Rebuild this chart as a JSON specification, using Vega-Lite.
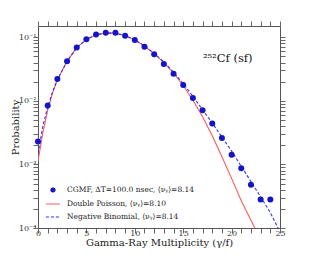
{
  "$schema": "https://vega.github.io/schema/vega-lite/v6.json",
  "width": 242,
  "height": 202,
  "autosize": "none",
  "padding": {"left": 38, "top": 26, "right": 32, "bottom": 32},
  "background": "white",
  "config": {
    "view": {"stroke": "#555", "strokeWidth": 1},
    "font": "DejaVu Serif",
    "axis": {"grid": false, "domain": false, "labelFont": "DejaVu Serif", "titleFont": "DejaVu Serif", "labelColor": "#333", "titleColor": "#222", "tickColor": "#666", "labelFontSize": 8, "titleFontSize": 10, "titleFontWeight": "normal"}
  },
  "datasets": {
    "curves": [
      {"series": "Double Poisson, ⟨νᵧ⟩=8.10", "x": 0, "p": 0.00112},
      {"series": "Double Poisson, ⟨νᵧ⟩=8.10", "x": 0.5, "p": 0.00316},
      {"series": "Double Poisson, ⟨νᵧ⟩=8.10", "x": 1, "p": 0.00708},
      {"series": "Double Poisson, ⟨νᵧ⟩=8.10", "x": 1.5, "p": 0.0132},
      {"series": "Double Poisson, ⟨νᵧ⟩=8.10", "x": 2, "p": 0.0214},
      {"series": "Double Poisson, ⟨νᵧ⟩=8.10", "x": 3, "p": 0.0417},
      {"series": "Double Poisson, ⟨νᵧ⟩=8.10", "x": 4, "p": 0.0684},
      {"series": "Double Poisson, ⟨νᵧ⟩=8.10", "x": 5, "p": 0.0923},
      {"series": "Double Poisson, ⟨νᵧ⟩=8.10", "x": 6, "p": 0.1096},
      {"series": "Double Poisson, ⟨νᵧ⟩=8.10", "x": 7, "p": 0.117},
      {"series": "Double Poisson, ⟨νᵧ⟩=8.10", "x": 8, "p": 0.116},
      {"series": "Double Poisson, ⟨νᵧ⟩=8.10", "x": 9, "p": 0.106},
      {"series": "Double Poisson, ⟨νᵧ⟩=8.10", "x": 10, "p": 0.0902},
      {"series": "Double Poisson, ⟨νᵧ⟩=8.10", "x": 11, "p": 0.0724},
      {"series": "Double Poisson, ⟨νᵧ⟩=8.10", "x": 12, "p": 0.055},
      {"series": "Double Poisson, ⟨νᵧ⟩=8.10", "x": 13, "p": 0.0398},
      {"series": "Double Poisson, ⟨νᵧ⟩=8.10", "x": 14, "p": 0.0272},
      {"series": "Double Poisson, ⟨νᵧ⟩=8.10", "x": 15, "p": 0.0174},
      {"series": "Double Poisson, ⟨νᵧ⟩=8.10", "x": 16, "p": 0.0102},
      {"series": "Double Poisson, ⟨νᵧ⟩=8.10", "x": 17, "p": 0.00562},
      {"series": "Double Poisson, ⟨νᵧ⟩=8.10", "x": 18, "p": 0.00282},
      {"series": "Double Poisson, ⟨νᵧ⟩=8.10", "x": 19, "p": 0.00132},
      {"series": "Double Poisson, ⟨νᵧ⟩=8.10", "x": 20, "p": 0.000603},
      {"series": "Double Poisson, ⟨νᵧ⟩=8.10", "x": 21, "p": 0.000269},
      {"series": "Double Poisson, ⟨νᵧ⟩=8.10", "x": 22, "p": 0.000132},
      {"series": "Double Poisson, ⟨νᵧ⟩=8.10", "x": 22.4, "p": 0.0001},
      {"series": "Double Poisson, ⟨νᵧ⟩=8.10", "x": 23, "p": 0.000063},
      {"series": "Negative Binomial, ⟨νᵧ⟩=8.14", "x": 0, "p": 0.00148},
      {"series": "Negative Binomial, ⟨νᵧ⟩=8.14", "x": 0.5, "p": 0.00398},
      {"series": "Negative Binomial, ⟨νᵧ⟩=8.14", "x": 1, "p": 0.00794},
      {"series": "Negative Binomial, ⟨νᵧ⟩=8.14", "x": 1.5, "p": 0.0138},
      {"series": "Negative Binomial, ⟨νᵧ⟩=8.14", "x": 2, "p": 0.0214},
      {"series": "Negative Binomial, ⟨νᵧ⟩=8.14", "x": 3, "p": 0.0417},
      {"series": "Negative Binomial, ⟨νᵧ⟩=8.14", "x": 4, "p": 0.0684},
      {"series": "Negative Binomial, ⟨νᵧ⟩=8.14", "x": 5, "p": 0.0923},
      {"series": "Negative Binomial, ⟨νᵧ⟩=8.14", "x": 6, "p": 0.109},
      {"series": "Negative Binomial, ⟨νᵧ⟩=8.14", "x": 7, "p": 0.116},
      {"series": "Negative Binomial, ⟨νᵧ⟩=8.14", "x": 8, "p": 0.1156},
      {"series": "Negative Binomial, ⟨νᵧ⟩=8.14", "x": 9, "p": 0.106},
      {"series": "Negative Binomial, ⟨νᵧ⟩=8.14", "x": 10, "p": 0.0906},
      {"series": "Negative Binomial, ⟨νᵧ⟩=8.14", "x": 11, "p": 0.0729},
      {"series": "Negative Binomial, ⟨νᵧ⟩=8.14", "x": 12, "p": 0.0556},
      {"series": "Negative Binomial, ⟨νᵧ⟩=8.14", "x": 13, "p": 0.0407},
      {"series": "Negative Binomial, ⟨νᵧ⟩=8.14", "x": 14, "p": 0.0282},
      {"series": "Negative Binomial, ⟨νᵧ⟩=8.14", "x": 15, "p": 0.0186},
      {"series": "Negative Binomial, ⟨νᵧ⟩=8.14", "x": 16, "p": 0.01175},
      {"series": "Negative Binomial, ⟨νᵧ⟩=8.14", "x": 17, "p": 0.00724},
      {"series": "Negative Binomial, ⟨νᵧ⟩=8.14", "x": 18, "p": 0.00447},
      {"series": "Negative Binomial, ⟨νᵧ⟩=8.14", "x": 19, "p": 0.00269},
      {"series": "Negative Binomial, ⟨νᵧ⟩=8.14", "x": 20, "p": 0.00162},
      {"series": "Negative Binomial, ⟨νᵧ⟩=8.14", "x": 21, "p": 0.000933},
      {"series": "Negative Binomial, ⟨νᵧ⟩=8.14", "x": 22, "p": 0.000537},
      {"series": "Negative Binomial, ⟨νᵧ⟩=8.14", "x": 23, "p": 0.000309},
      {"series": "Negative Binomial, ⟨νᵧ⟩=8.14", "x": 24, "p": 0.000174},
      {"series": "Negative Binomial, ⟨νᵧ⟩=8.14", "x": 24.8, "p": 0.0001},
      {"series": "Negative Binomial, ⟨νᵧ⟩=8.14", "x": 25.5, "p": 0.000063}
    ],
    "points": [
      {"series": "CGMF, ΔT=100.0 nsec, ⟨νᵧ⟩=8.14", "x": 0, "p": 0.0023},
      {"series": "CGMF, ΔT=100.0 nsec, ⟨νᵧ⟩=8.14", "x": 1, "p": 0.0084},
      {"series": "CGMF, ΔT=100.0 nsec, ⟨νᵧ⟩=8.14", "x": 2, "p": 0.022},
      {"series": "CGMF, ΔT=100.0 nsec, ⟨νᵧ⟩=8.14", "x": 3, "p": 0.042},
      {"series": "CGMF, ΔT=100.0 nsec, ⟨νᵧ⟩=8.14", "x": 4, "p": 0.069},
      {"series": "CGMF, ΔT=100.0 nsec, ⟨νᵧ⟩=8.14", "x": 5, "p": 0.093},
      {"series": "CGMF, ΔT=100.0 nsec, ⟨νᵧ⟩=8.14", "x": 6, "p": 0.110},
      {"series": "CGMF, ΔT=100.0 nsec, ⟨νᵧ⟩=8.14", "x": 7, "p": 0.117},
      {"series": "CGMF, ΔT=100.0 nsec, ⟨νᵧ⟩=8.14", "x": 8, "p": 0.117},
      {"series": "CGMF, ΔT=100.0 nsec, ⟨νᵧ⟩=8.14", "x": 9, "p": 0.105},
      {"series": "CGMF, ΔT=100.0 nsec, ⟨νᵧ⟩=8.14", "x": 10, "p": 0.090},
      {"series": "CGMF, ΔT=100.0 nsec, ⟨νᵧ⟩=8.14", "x": 11, "p": 0.071},
      {"series": "CGMF, ΔT=100.0 nsec, ⟨νᵧ⟩=8.14", "x": 12, "p": 0.054},
      {"series": "CGMF, ΔT=100.0 nsec, ⟨νᵧ⟩=8.14", "x": 13, "p": 0.038},
      {"series": "CGMF, ΔT=100.0 nsec, ⟨νᵧ⟩=8.14", "x": 14, "p": 0.0267},
      {"series": "CGMF, ΔT=100.0 nsec, ⟨νᵧ⟩=8.14", "x": 15, "p": 0.0177},
      {"series": "CGMF, ΔT=100.0 nsec, ⟨νᵧ⟩=8.14", "x": 16, "p": 0.0111},
      {"series": "CGMF, ΔT=100.0 nsec, ⟨νᵧ⟩=8.14", "x": 17, "p": 0.0071},
      {"series": "CGMF, ΔT=100.0 nsec, ⟨νᵧ⟩=8.14", "x": 18, "p": 0.0044},
      {"series": "CGMF, ΔT=100.0 nsec, ⟨νᵧ⟩=8.14", "x": 19, "p": 0.0026},
      {"series": "CGMF, ΔT=100.0 nsec, ⟨νᵧ⟩=8.14", "x": 20, "p": 0.00142},
      {"series": "CGMF, ΔT=100.0 nsec, ⟨νᵧ⟩=8.14", "x": 21, "p": 0.00087},
      {"series": "CGMF, ΔT=100.0 nsec, ⟨νᵧ⟩=8.14", "x": 22, "p": 0.00048},
      {"series": "CGMF, ΔT=100.0 nsec, ⟨νᵧ⟩=8.14", "x": 23, "p": 0.00028},
      {"series": "CGMF, ΔT=100.0 nsec, ⟨νᵧ⟩=8.14", "x": 24, "p": 0.00028}
    ],
    "note": [{"x": 19.6, "p": 0.045, "label": "²⁵²Cf (sf)"}]
  },
  "layer": [
    {
      "data": {"name": "curves"},
      "transform": [{"filter": "datum.series == 'Double Poisson, ⟨νᵧ⟩=8.10'"}],
      "mark": {"type": "line", "clip": true, "strokeWidth": 1.1},
      "encoding": {
        "x": {"field": "x", "type": "quantitative",
              "scale": {"domain": [0, 25], "nice": false},
              "axis": {"title": "Gamma-Ray Multiplicity (γ/f)", "values": [0,1,2,3,4,5,6,7,8,9,10,11,12,13,14,15,16,17,18,19,20,21,22,23,24,25],
                       "labelExpr": "datum.value % 5 == 0 ? datum.label : ''",
                       "tickSize": 5, "labelPadding": -4, "titlePadding": 0, "labelFlush": false,
                       "encode": {"ticks": {"update": {"y2": {"signal": "datum.value % 5 == 0 ? -5 : -2.5"}}}}}},
        "y": {"field": "p", "type": "quantitative",
              "scale": {"type": "log", "domain": [0.0001, 0.15], "nice": false},
              "axis": {"title": "Probability",
                       "values": [0.0001,0.0002,0.0003,0.0004,0.0005,0.0006,0.0007,0.0008,0.0009,0.001,0.002,0.003,0.004,0.005,0.006,0.007,0.008,0.009,0.01,0.02,0.03,0.04,0.05,0.06,0.07,0.08,0.09,0.1],
                       "labelExpr": "abs(datum.value-0.1)<1e-9 ? '10⁻¹' : abs(datum.value-0.01)<1e-10 ? '10⁻²' : abs(datum.value-0.001)<1e-11 ? '10⁻³' : abs(datum.value-0.0001)<1e-12 ? '10⁻⁴' : ''",
                       "tickSize": 5, "labelPadding": -3, "titlePadding": -2,
                       "encode": {"ticks": {"update": {"x2": {"signal": "abs(log(datum.value)/LN10 - round(log(datum.value)/LN10)) < 0.000001 ? 5 : 2.5"}}}}}},
        "color": {"field": "series", "type": "nominal",
                  "scale": {"domain": ["CGMF, ΔT=100.0 nsec, ⟨νᵧ⟩=8.14", "Double Poisson, ⟨νᵧ⟩=8.10", "Negative Binomial, ⟨νᵧ⟩=8.14"], "range": ["#1414c8", "#ff5a5a", "#2f2fff"]},
                  "legend": {"title": null, "orient": "bottom-left", "offset": 7, "labelFont": "DejaVu Serif", "labelFontSize": 7.5, "labelColor": "#222", "rowPadding": 1, "symbolStrokeWidth": 1.2, "labelLimit": 300, "symbolSize": 200, "labelOffset": 6,
                             "encode": {"symbols": {"update": {
                               "shape": {"signal": "datum.index == 0 ? 'circle' : 'stroke'"},
                               "size": {"signal": "datum.index == 0 ? 16 : 200"},
                               "stroke": {"signal": "datum.index == 0 ? '#1414c8' : datum.index == 1 ? '#ff5a5a' : '#2f2fff'"},
                               "strokeDash": {"signal": "datum.index == 2 ? [3, 2] : [1, 0]"},
                               "fill": {"signal": "datum.index == 0 ? '#1414c8' : 'transparent'"}
                             }}}}}
      }
    },
    {
      "data": {"name": "curves"},
      "transform": [{"filter": "datum.series != 'Double Poisson, ⟨νᵧ⟩=8.10'"}],
      "mark": {"type": "line", "clip": true, "strokeWidth": 1.1, "strokeDash": [3, 2]},
      "encoding": {
        "x": {"field": "x", "type": "quantitative", "axis": null},
        "y": {"field": "p", "type": "quantitative", "axis": null},
        "color": {"field": "series", "type": "nominal"}
      }
    },
    {
      "data": {"name": "points"},
      "mark": {"type": "point", "filled": true, "size": 36, "opacity": 1},
      "encoding": {
        "x": {"field": "x", "type": "quantitative", "axis": null},
        "y": {"field": "p", "type": "quantitative", "axis": null},
        "color": {"field": "series", "type": "nominal"}
      }
    },
    {
      "data": {"name": "note"},
      "mark": {"type": "text", "font": "DejaVu Serif", "fontSize": 11.5, "color": "#111"},
      "encoding": {
        "x": {"field": "x", "type": "quantitative", "axis": null},
        "y": {"field": "p", "type": "quantitative", "axis": null},
        "text": {"field": "label"}
      }
    },
    {
      "data": {"name": "points"},
      "mark": {"type": "point", "opacity": 0},
      "encoding": {
        "x": {"field": "x", "type": "quantitative",
              "axis": {"orient": "top", "title": null, "labels": false, "values": [0,1,2,3,4,5,6,7,8,9,10,11,12,13,14,15,16,17,18,19,20,21,22,23,24,25], "tickSize": 5,
                       "encode": {"ticks": {"update": {"y2": {"signal": "datum.value % 5 == 0 ? 5 : 2.5"}}}}}},
        "y": {"field": "p", "type": "quantitative",
              "axis": {"orient": "right", "title": null, "labels": false, "tickSize": 5,
                       "values": [0.0001,0.0002,0.0003,0.0004,0.0005,0.0006,0.0007,0.0008,0.0009,0.001,0.002,0.003,0.004,0.005,0.006,0.007,0.008,0.009,0.01,0.02,0.03,0.04,0.05,0.06,0.07,0.08,0.09,0.1],
                       "encode": {"ticks": {"update": {"x2": {"signal": "abs(log(datum.value)/LN10 - round(log(datum.value)/LN10)) < 0.000001 ? -5 : -2.5"}}}}}}
      }
    }
  ],
  "resolve": {"axis": {"x": "independent", "y": "independent"}}
}
